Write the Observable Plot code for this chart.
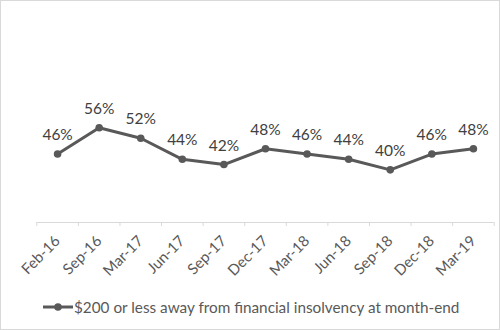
<!DOCTYPE html>
<html><head><meta charset="utf-8">
<script src="https://cdn.jsdelivr.net/npm/d3@7"></script>
<script src="https://cdn.jsdelivr.net/npm/@observablehq/plot@0.6"></script>
<style>
html,body{margin:0;padding:0;background:#fff}
#wrap{position:relative;width:500px;height:330px;overflow:hidden;font-family:Lato,"Open Sans",sans-serif}
#plot{position:absolute;left:0;top:0}
#border{position:absolute;left:0;top:0;width:500px;height:330px;box-sizing:border-box;border:1.5px solid #d9d9d9;pointer-events:none}
#legend{position:absolute;left:43px;top:297px;height:20px;display:flex;align-items:center;color:#595959;font-size:15.3px;white-space:nowrap}
#legend svg{margin-right:1px}
</style>
</head><body>
<div id="wrap"><div id="plot"></div><div id="legend"></div><div id="border"></div></div>
<script>
const categories = ["Feb-16","Sep-16","Mar-17","Jun-17","Sep-17","Dec-17","Mar-18","Jun-18","Sep-18","Dec-18","Mar-19"];
const values = [0.46,0.56,0.52,0.44,0.42,0.48,0.46,0.44,0.40,0.46,0.48];
const seriesName = "$200 or less away from financial insolvency at month-end";
const lineColor = "#595959";

const data = categories.map((c, i) => ({i, c, v: values[i]}));
const boundaries = d3.range(categories.length + 1).map(i => i - 0.5);

const chart = Plot.plot({
  width: 500,
  height: 290,
  marginLeft: 36.3,
  marginRight: 6.3,
  marginTop: 64,
  marginBottom: 68,
  style: {fontFamily: "Lato, 'Open Sans', sans-serif", background: "transparent"},
  x: {type: "linear", domain: [-0.5, categories.length - 0.5]},
  y: {domain: [0.2, 0.8], axis: null},
  marks: [
    Plot.ruleY([0.2], {stroke: "#d9d9d9", strokeWidth: 1}),
    Plot.axisX({
      ticks: d3.range(categories.length),
      tickFormat: i => categories[i],
      tickSize: 0,
      tickRotate: -45,
      tickPadding: 16,
      fontSize: 15,
      color: "#595959",
      label: null
    }),
    Plot.axisX({
      ticks: boundaries,
      tickFormat: () => "",
      tickSize: 4,
      stroke: "#d9d9d9",
      strokeOpacity: 1,
      label: null
    }),
    Plot.lineY(data, {x: "i", y: "v", stroke: lineColor, strokeWidth: 3}),
    Plot.dot(data, {x: "i", y: "v", r: 3.8, fill: lineColor, stroke: "none"}),
    Plot.text(data, {x: "i", y: "v", text: d => d3.format(".0%")(d.v), dy: -19, fontSize: 15.5, fill: "#404040"})
  ]
});
document.getElementById("plot").appendChild(chart);

const legend = document.getElementById("legend");
legend.innerHTML = `<svg width="30" height="20"><line x1="0" x2="30" y1="10" y2="10" stroke="${lineColor}" stroke-width="3"/><circle cx="15" cy="10" r="3.8" fill="${lineColor}"/></svg><span>${seriesName}</span>`;
</script>
</body></html>
